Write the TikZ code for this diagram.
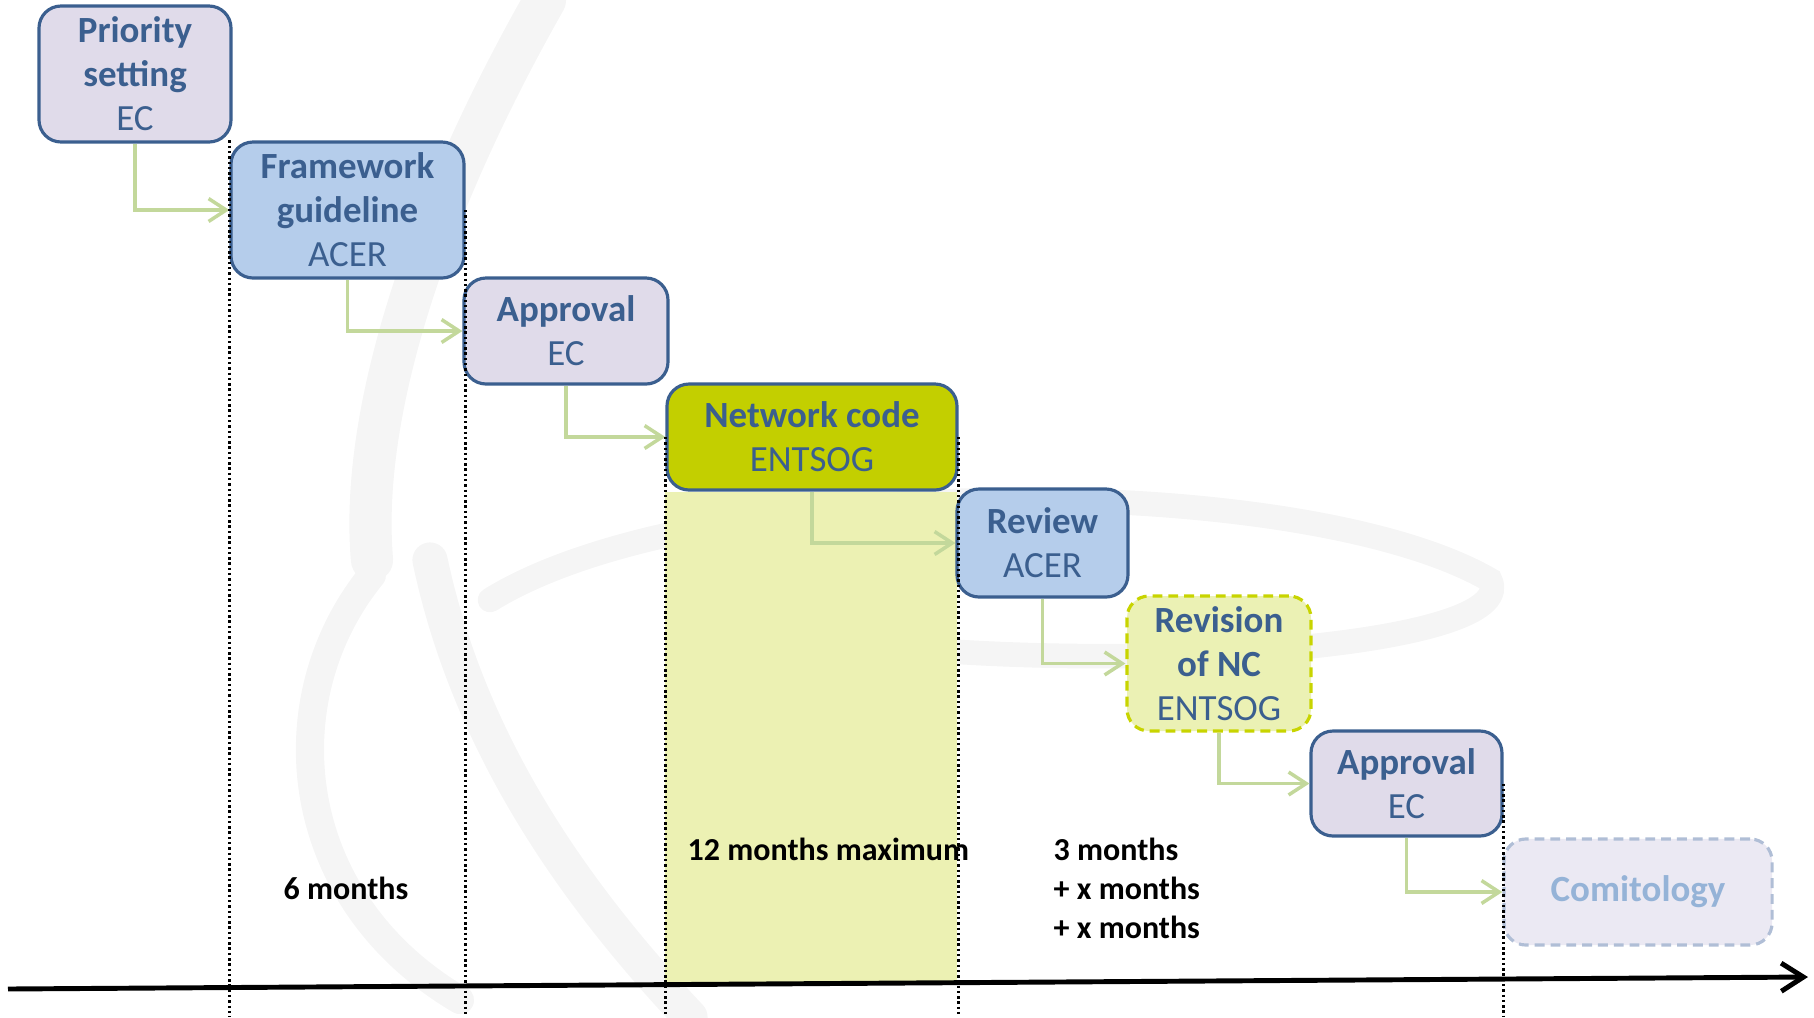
\documentclass[tikz,border=0pt]{standalone}
\usepackage{fontspec}
\setmainfont{Carlito}
\usetikzlibrary{arrows.meta,backgrounds}
\definecolor{ncblue}{HTML}{3B5F8F}
\definecolor{ecfill}{HTML}{E0DBEA}
\definecolor{acerfill}{HTML}{B5CDEB}
\definecolor{ncfill}{HTML}{C3CF00}
\definecolor{ncshade}{HTML}{ECF1B3}
\definecolor{revfill}{HTML}{EBF1B4}
\definecolor{revline}{HTML}{C8D400}
\definecolor{comfill}{HTML}{EBE9F3}
\definecolor{comline}{HTML}{B0BED6}
\definecolor{comtext}{HTML}{95B3D7}
\definecolor{flowgreen}{HTML}{C3D89B}
\tikzset{
   stepbox/.style={draw=ncblue, line width=0.9pt, rounded corners=0.22cm, text=ncblue,
      align=center, inner sep=0pt, font=\fontsize{10.5}{12.5}\selectfont\bfseries},
   ecbox/.style={stepbox, fill=ecfill},
   acerbox/.style={stepbox, fill=acerfill},
   ncbox/.style={stepbox, fill=ncfill},
   revbox/.style={stepbox, fill=revfill, draw=revline, dash pattern=on 2.8pt off 1.7pt},
   comitbox/.style={stepbox, fill=comfill, draw=comline, text=comtext, dash pattern=on 2.8pt off 1.7pt},
   flow/.style={draw=flowgreen, line width=1pt, -{Straight Barb[length=5pt,width=6.5pt]}},
   period/.style={black, line width=0.7pt, dash pattern=on 0.7pt off 0.8pt},
   months/.style={inner sep=0pt, font=\fontsize{9.1}{11.1}\selectfont\bfseries},
   timeaxis/.style={line width=1.4pt, -{Straight Barb[length=6.3pt,width=8pt]}},
   watermark/.style={draw=black!4, line cap=round}
}
\begin{document}
\begin{tikzpicture}[x=0.01cm, y=-0.01cm]
   \useasboundingbox (0,0) rectangle (1814,1017);
   \def \Steps {
      prio/135/74/192/136/ecbox/{Priority\\setting}/EC,
      frame/347.5/210/233/136/acerbox/{Framework\\guideline}/ACER,
      appr1/566/331/204/106/ecbox/Approval/EC,
      netc/812/437/290/106/ncbox/Network code/ENTSOG,
      review/1042.5/543/171/108/acerbox/Review/ACER,
      revis/1219/663.5/184/135/revbox/{Revision\\of NC}/ENTSOG,
      appr2/1406.5/783.5/191/105/ecbox/Approval/EC}
   \foreach \n / \x / \y / \w / \h / \s / \t / \a in \Steps {
      \node[\s, minimum width=\w*0.01cm, minimum height=\h*0.01cm] (\n) at (\x, \y) {\t\\\mdseries\a};
   }
   \node[comitbox, minimum width=2.68cm, minimum height=1.06cm] (comit) at (1638, 892) {Comitology};
   \begin{scope}[on background layer]
      \draw[watermark, line width=12pt] (545,0) .. controls (420,220) and (360,420) .. (372,560);
      \draw[watermark, line width=8pt] (372,575) .. controls (270,700) and (290,900) .. (460,1000);
      \draw[watermark, line width=10pt] (430,560) .. controls (470,750) and (580,900) .. (690,1017);
      \draw[watermark, line width=7pt] (490,600) .. controls (700,470) and (1300,470) .. (1490,580)
         .. controls (1520,640) and (1200,670) .. (930,650);
      \fill[ncshade] (netc.south west) rectangle (957,983);
   \end{scope}
   \foreach \a / \b in {prio/frame, frame/appr1, appr1/netc, netc/review, review/revis, revis/appr2, appr2/comit} {
      \draw[flow] (\a.south) |- (\b.west);
   }
   \foreach \p in {frame.north west, frame.east, netc.west, netc.east, appr2.east} {
      \draw[period] (\p) -- (\p |- 0,1017);
   }
   \coordinate (start) at (8,989);
   \coordinate (end) at (1808,977);
   \draw[timeaxis] (start) -- (end);
   \node[months] (six) at (346,888) {6 months};
   \node[months, anchor=west] (twelve) at (687,849) {12 months maximum};
   \node[months, anchor=west, align=left] (three) at (1053,888) {3 months\\+ x months\\+ x months};
\end{tikzpicture}
\end{document}
